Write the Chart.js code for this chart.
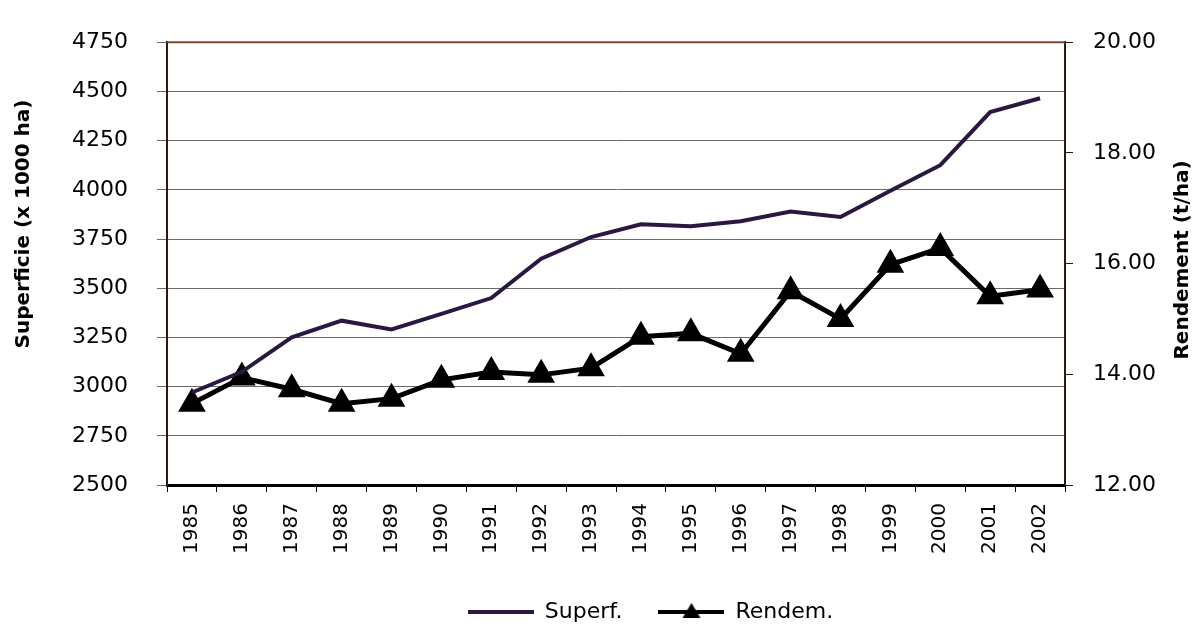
<!DOCTYPE html>
<html>
<head>
<meta charset="utf-8">
<script src="https://cdn.jsdelivr.net/npm/chart.js@4/dist/chart.umd.min.js"></script>
<style>
  html, body { margin: 0; padding: 0; background: #fff; }
  #wrap { width: 1203px; height: 625px; }
</style>
</head>
<body>
<div id="wrap"><canvas id="myChart" width="1203" height="625"></canvas></div>
<script>
// data
const years = ['1985','1986','1987','1988','1989','1990','1991','1992','1993',
               '1994','1995','1996','1997','1998','1999','2000','2001','2002'];
const superf = [2970, 3075, 3250, 3335, 3290, 3370, 3450, 3650, 3760,
                3825, 3815, 3840, 3890, 3862, 3995, 4125, 4395, 4465];
const rendem = [13.47, 13.94, 13.73, 13.47, 13.56, 13.90, 14.04, 13.99, 14.11,
                14.68, 14.74, 14.37, 15.50, 15.00, 15.98, 16.28, 15.41, 15.53];
const leftTicks = [2500, 4750, 250];   // min, max, step
const rightTicks = [12, 20, 2];

const purple = '#2a1840';
const fontFam = '"DejaVu Sans", sans-serif';

// little legend samples: plain line, line with a triangle
function sample(color, withTri) {
  let c = document.createElement('canvas');
  c.width = 66; c.height = 22;
  let g = c.getContext('2d');
  g.strokeStyle = color;
  g.lineWidth = 4;
  g.beginPath(); g.moveTo(0, 11); g.lineTo(66, 11); g.stroke();
  if (withTri) {
    g.fillStyle = color;
    g.beginPath(); g.moveTo(33, 2); g.lineTo(42, 17); g.lineTo(24, 17); g.closePath(); g.fill();
  }
  return c;
}
const samples = [sample(purple, false), sample('#000', true)];

// frame top line, axis titles, and the legend sits a bit right of centre
const extras = {
  id: 'extras',
  afterLayout(chart) {
    chart.legend.left += 98;
  },
  afterDraw(chart) {
    let ctx = chart.ctx, a = chart.chartArea;
    ctx.save();
    ctx.strokeStyle = '#7a4a30';
    ctx.lineWidth = 2;
    ctx.beginPath(); ctx.moveTo(a.left, a.top); ctx.lineTo(a.right, a.top); ctx.stroke();
    ctx.fillStyle = '#000';
    ctx.font = 'bold 20px ' + fontFam;
    ctx.textAlign = 'center';
    ctx.textBaseline = 'middle';
    ctx.translate(24, 224); ctx.rotate(-Math.PI / 2);
    ctx.fillText('Superficie (x 1000 ha)', 0, 0);
    ctx.restore();
    ctx.save();
    ctx.fillStyle = '#000';
    ctx.font = 'bold 20px ' + fontFam;
    ctx.textAlign = 'center';
    ctx.textBaseline = 'middle';
    ctx.translate(1183, 260); ctx.rotate(-Math.PI / 2);
    ctx.fillText('Rendement (t/ha)', 0, 0);
    ctx.restore();
  }
};

new Chart('myChart', {
  type: 'line',
  data: {
    labels: years,
    datasets: [{
      label: 'Superf.',
      data: superf,
      borderColor: purple,
      borderWidth: 4,
      pointRadius: 0,
      yAxisID: 'y'
    }, {
      label: 'Rendem.',
      data: rendem,
      borderColor: '#000',
      backgroundColor: '#000',
      borderWidth: 5,
      pointStyle: 'triangle',
      pointRadius: 11,
      yAxisID: 'y1'
    }]
  },
  options: {
    responsive: false,
    animation: false,
    layout: { padding: { top: 23, left: 0, right: 0, bottom: -8 } },
    plugins: {
      tooltip: { enabled: false },
      legend: {
        position: 'bottom',
        labels: {
          usePointStyle: true,
          pointStyleWidth: 66,
          padding: 36,
          color: '#000',
          font: { family: fontFam, size: 22 },
          generateLabels(chart) {
            let items = Chart.defaults.plugins.legend.labels.generateLabels(chart);
            items.forEach((it, i) => { it.pointStyle = samples[i]; });
            return items;
          }
        }
      }
    },
    scales: {
      x: {
        offset: true,
        grid: { drawOnChartArea: false, offset: true, tickLength: 7, color: '#000' },
        border: { color: '#000', width: 3 },
        ticks: {
          color: '#000', padding: 11, maxRotation: 90, minRotation: 90, autoSkip: false,
          font: { family: fontFam, size: 20 }
        },
        afterFit(s) { s.height = 80; }
      },
      y: {
        position: 'left',
        min: leftTicks[0], max: leftTicks[1],
        grid: { color: '#6a6a6a', lineWidth: 1, tickLength: 10 },
        border: { color: '#2a1a10', width: 2 },
        ticks: {
          stepSize: leftTicks[2], color: '#000', padding: 29,
          font: { family: fontFam, size: 22 },
          callback: v => String(v)
        },
        afterFit(s) { s.width = 167; }
      },
      y1: {
        position: 'right',
        min: rightTicks[0], max: rightTicks[1],
        grid: { drawOnChartArea: false, tickLength: 8, color: '#2a1a10' },
        border: { color: '#2a1a10', width: 2 },
        ticks: {
          stepSize: rightTicks[2], color: '#000', padding: 20,
          font: { family: fontFam, size: 22 },
          callback: v => v.toFixed(2)
        },
        afterFit(s) { s.width = 138; }
      }
    }
  },
  plugins: [extras]
});
</script>
</body>
</html>
